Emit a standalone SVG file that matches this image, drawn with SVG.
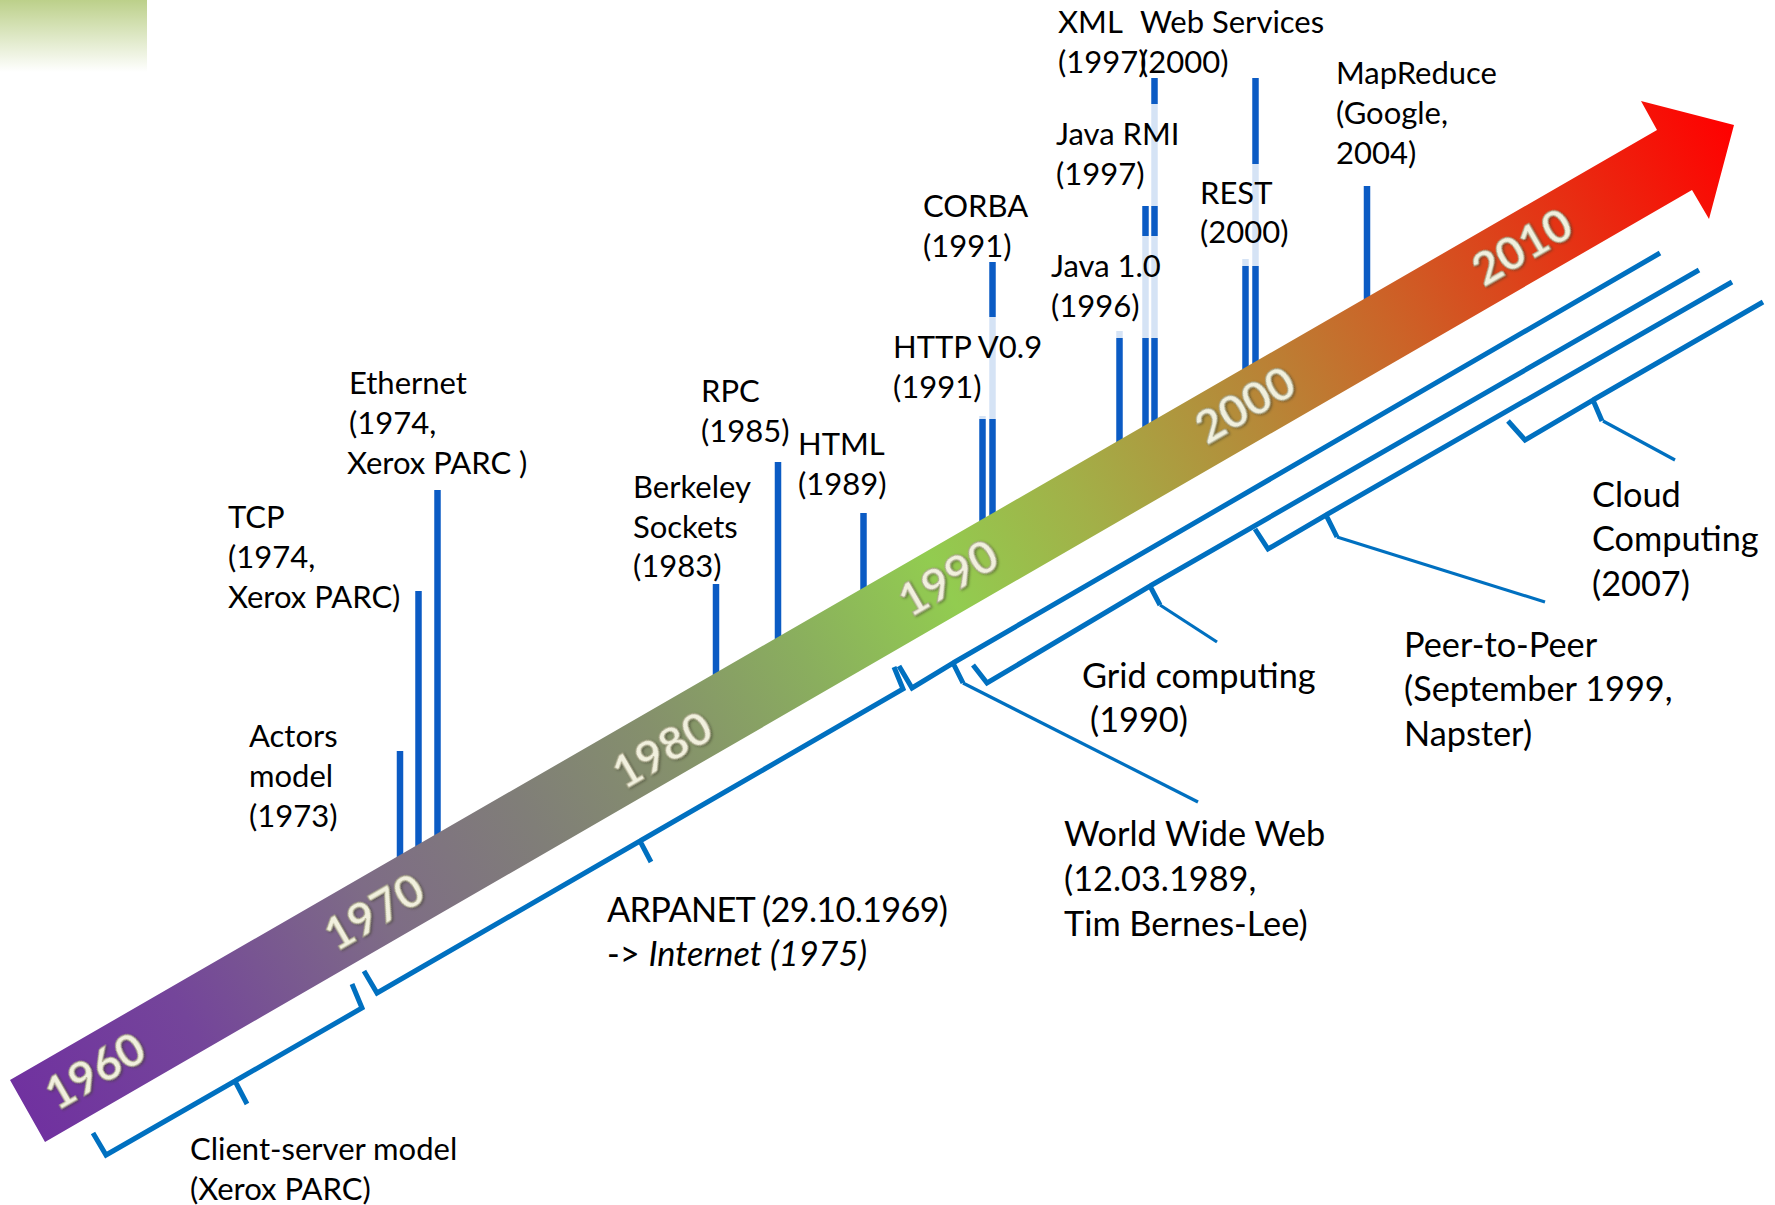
<svg xmlns="http://www.w3.org/2000/svg" width="1775" height="1205" viewBox="0 0 1775 1205">
<defs>
<style>
.t{font-family:Lato,"Liberation Sans",sans-serif;font-size:31px;fill:#000}
.b{font-size:34.3px}
.it{font-style:italic}
.bar{stroke:#0B5BC4;stroke-width:6.5;fill:none}
.box{fill:#fff;fill-opacity:0.83}
.br{stroke:#0070C0;stroke-width:5;fill:none;stroke-linejoin:miter;stroke-linecap:butt}
.ld{stroke:#0070C0;stroke-width:3.2;fill:none}
.yr{font-family:Lato,"Liberation Sans",sans-serif;font-weight:bold;font-size:46px;fill:#F1F0DE;stroke:#A9A78A;stroke-width:1;text-anchor:middle;filter:url(#sh)}
</style>
<linearGradient id="corner" x1="0" y1="0" x2="0" y2="1">
<stop offset="0" stop-color="#BCD08A"/>
<stop offset="1" stop-color="#BCD08A" stop-opacity="0"/>
</linearGradient>
<linearGradient id="arrowGrad" gradientUnits="userSpaceOnUse" x1="10" y1="1110" x2="1734" y2="125">
<stop offset="0" stop-color="#7030A0"/>
<stop offset="0.1" stop-color="#74459A"/>
<stop offset="0.21" stop-color="#7E6C86"/>
<stop offset="0.3" stop-color="#807E78"/>
<stop offset="0.375" stop-color="#85906C"/>
<stop offset="0.46" stop-color="#8AAE5E"/>
<stop offset="0.54" stop-color="#92CC50"/>
<stop offset="0.62" stop-color="#A2B048"/>
<stop offset="0.72" stop-color="#B68838"/>
<stop offset="0.8" stop-color="#CB6428"/>
<stop offset="0.88" stop-color="#E03C18"/>
<stop offset="1" stop-color="#FF0000"/>
</linearGradient>
<filter id="sh" x="-20%" y="-20%" width="140%" height="140%">
<feDropShadow dx="1" dy="1.5" stdDeviation="1" flood-color="#3A3A28" flood-opacity="0.55"/>
</filter>
</defs>
<rect width="1775" height="1205" fill="#fff"/>
<rect x="0" y="0" width="147" height="72" fill="url(#corner)"/>

<g id="actors">
<line class="bar" x1="400" y1="751" x2="400" y2="861"/>
<text class="t" x="249" y="747">Actors</text>
<text class="t" x="249" y="787">model</text>
<text class="t" x="249" y="827">(1973)</text>
</g>
<g id="tcp">
<line class="bar" x1="418.5" y1="591" x2="418.5" y2="850"/>
<text class="t" x="228" y="528">TCP</text>
<text class="t" x="228" y="568">(1974,</text>
<text class="t" x="228" y="608">Xerox PARC)</text>
</g>
<g id="ethernet">
<line class="bar" x1="437.5" y1="490" x2="437.5" y2="839"/>
<text class="t" x="349" y="394">Ethernet</text>
<text class="t" x="349" y="434">(1974,</text>
<text class="t" x="347" y="474">Xerox PARC )</text>
</g>
<g id="berkeley">
<line class="bar" x1="716" y1="584" x2="716" y2="679"/>
<text class="t" x="633" y="498">Berkeley</text>
<text class="t" x="633" y="538">Sockets</text>
<text class="t" x="633" y="577">(1983)</text>
</g>
<g id="rpc">
<line class="bar" x1="778" y1="462" x2="778" y2="643"/>
<text class="t" x="701" y="402">RPC</text>
<text class="t" x="701" y="442">(1985)</text>
</g>
<g id="html">
<line class="bar" x1="863.5" y1="513" x2="863.5" y2="594"/>
<text class="t" x="798" y="455">HTML</text>
<text class="t" x="798" y="495">(1989)</text>
</g>
<g id="corba">
<line class="bar" x1="992.5" y1="262" x2="992.5" y2="519"/>
<text class="t" x="923" y="217">CORBA</text>
<text class="t" x="923" y="257">(1991)</text>
</g>
<g id="http">
<line class="bar" x1="982.5" y1="416" x2="982.5" y2="525"/>
<rect class="box" x="888" y="317" width="112" height="102"/>
<text class="t" x="893" y="358">HTTP V0.9</text>
<text class="t" x="893" y="398">(1991)</text>
</g>
<g id="xml">
<line class="bar" x1="1154.5" y1="78" x2="1154.5" y2="426"/>
<text class="t" x="1058" y="33">XML</text>
<text class="t" x="1058" y="73">(1997)</text>
</g>
<g id="webservices">
<line class="bar" x1="1255.5" y1="78" x2="1255.5" y2="368"/>
<text class="t" x="1140" y="33">Web Services</text>
<text class="t" x="1140" y="73">(2000)</text>
</g>
<g id="javarmi">
<line class="bar" x1="1145.5" y1="206" x2="1145.5" y2="431"/>
<rect class="box" x="1050" y="104" width="110" height="102"/>
<text class="t" x="1056" y="145">Java RMI</text>
<text class="t" x="1056" y="185">(1997)</text>
</g>
<g id="java10">
<line class="bar" x1="1119.5" y1="331" x2="1119.5" y2="446"/>
<rect class="box" x="1046" y="236" width="114" height="102"/>
<text class="t" x="1051" y="277">Java 1.0</text>
<text class="t" x="1051" y="317">(1996)</text>
</g>
<g id="rest">
<line class="bar" x1="1245.5" y1="259" x2="1245.5" y2="373"/>
<rect class="box" x="1195" y="164" width="67" height="102"/>
<text class="t" x="1200" y="204">REST</text>
<text class="t" x="1200" y="243">(2000)</text>
</g>
<g id="mapreduce">
<line class="bar" x1="1367" y1="186" x2="1367" y2="303"/>
<text class="t" x="1336" y="84">MapReduce</text>
<text class="t" x="1336" y="124">(Google,</text>
<text class="t" x="1336" y="164">2004)</text>
</g>

<g id="timeline">
<polygon points="10,1080 1657,130 1641,101 1734,125 1709,219 1692,190 45,1142" fill="url(#arrowGrad)"/>
<text class="yr" transform="translate(95,1071) rotate(-30)" y="16">1960</text>
<text class="yr" transform="translate(374,912) rotate(-30)" y="16">1970</text>
<text class="yr" transform="translate(662,750) rotate(-30)" y="16">1980</text>
<text class="yr" transform="translate(948,578) rotate(-30)" y="16">1990</text>
<text class="yr" transform="translate(1245,405) rotate(-30)" y="16">2000</text>
<text class="yr" transform="translate(1522,247) rotate(-30)" y="16">2010</text>
</g>

<g id="connectors">
<path class="br" d="M93,1133 L106,1155 L235,1081 L247,1104 M235,1081 L362,1008 L352,984"/>
<path class="br" d="M364,971 L377,993 L640,841 L651,862 M640,841 L903,689 L894,667"/>
<path class="br" d="M899,666 L912,688 L953,663 L963,683 M953,663 L1660,253"/>
<path class="ld" d="M963,683 L1198,802"/>
<path class="br" d="M973,665 L987,683 L1150,586 L1160,605 M1150,586 L1699,270"/>
<path class="ld" d="M1160,605 L1217,642"/>
<path class="br" d="M1255,529 L1268,549 L1326,515 L1337,537 M1326,515 L1732,282"/>
<path class="ld" d="M1337,537 L1545,602"/>
<path class="br" d="M1508,421 L1525,440 L1593,400 L1602,421 M1593,400 L1763,302"/>
<path class="ld" d="M1603,421 L1675,460"/>
</g>

<g id="clientserver">
<text class="t" x="190" y="1160">Client-server model</text>
<text class="t" x="190" y="1200">(Xerox PARC)</text>
</g>
<g id="arpanet">
<text class="t b" x="607" y="922" textLength="341" lengthAdjust="spacing">ARPANET (29.10.1969)</text>
<text class="t b" x="607" y="966">-&gt; <tspan class="it">Internet (1975)</tspan></text>
</g>
<g id="www">
<text class="t b" x="1064" y="846">World Wide Web</text>
<text class="t b" x="1064" y="891">(12.03.1989,</text>
<text class="t b" x="1064" y="936">Tim Bernes-Lee)</text>
</g>
<g id="grid">
<text class="t b" x="1082" y="688">Grid computing</text>
<text class="t b" x="1090" y="732">(1990)</text>
</g>
<g id="p2p">
<text class="t b" x="1404" y="657">Peer-to-Peer</text>
<text class="t b" x="1404" y="701">(September 1999,</text>
<text class="t b" x="1404" y="746">Napster)</text>
</g>
<g id="cloud">
<text class="t b" x="1592" y="507">Cloud</text>
<text class="t b" x="1592" y="551">Computing</text>
<text class="t b" x="1592" y="596">(2007)</text>
</g>
</svg>
